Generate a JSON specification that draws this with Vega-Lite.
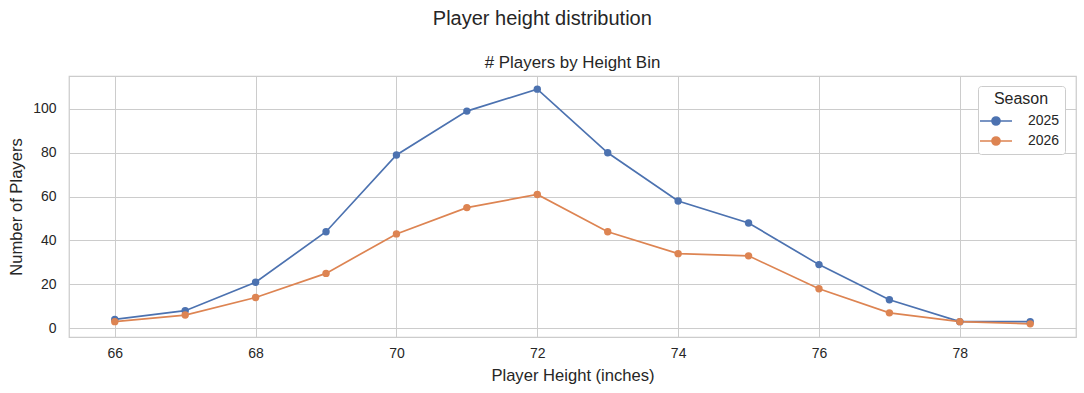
{
  "$schema": "https://vega.github.io/schema/vega-lite/v6.json",
  "padding": {"left": 8, "top": 8, "right": 9, "bottom": 0},
  "background": "white",
  "title": {"text": "Player height distribution", "fontSize": 20, "font": "Liberation Sans", "fontWeight": "normal", "color": "#262626", "anchor": "middle", "offset": 24.5},
  "config": {
    "font": "Liberation Sans",
    "view": {"stroke": "#cccccc", "strokeWidth": 1.25},
    "axis": {"grid": true, "gridColor": "#cccccc", "gridWidth": 1, "domain": false, "ticks": false, "labelFontSize": 14, "labelColor": "#262626", "titleFontSize": 16.6, "titleFontWeight": "normal", "titleColor": "#262626", "labelFont": "Liberation Sans", "titleFont": "Liberation Sans"},
    "legend": {"labelFont": "Liberation Sans", "titleFont": "Liberation Sans"}
  },
  "datasets": {
    "players": [
      {"height": 66, "season": "2025", "players": 4},
      {"height": 67, "season": "2025", "players": 8},
      {"height": 68, "season": "2025", "players": 21},
      {"height": 69, "season": "2025", "players": 44},
      {"height": 70, "season": "2025", "players": 79},
      {"height": 71, "season": "2025", "players": 99},
      {"height": 72, "season": "2025", "players": 109},
      {"height": 73, "season": "2025", "players": 80},
      {"height": 74, "season": "2025", "players": 58},
      {"height": 75, "season": "2025", "players": 48},
      {"height": 76, "season": "2025", "players": 29},
      {"height": 77, "season": "2025", "players": 13},
      {"height": 78, "season": "2025", "players": 3},
      {"height": 79, "season": "2025", "players": 3},
      {"height": 66, "season": "2026", "players": 3},
      {"height": 67, "season": "2026", "players": 6},
      {"height": 68, "season": "2026", "players": 14},
      {"height": 69, "season": "2026", "players": 25},
      {"height": 70, "season": "2026", "players": 43},
      {"height": 71, "season": "2026", "players": 55},
      {"height": 72, "season": "2026", "players": 61},
      {"height": 73, "season": "2026", "players": 44},
      {"height": 74, "season": "2026", "players": 34},
      {"height": 75, "season": "2026", "players": 33},
      {"height": 76, "season": "2026", "players": 18},
      {"height": 77, "season": "2026", "players": 7},
      {"height": 78, "season": "2026", "players": 3},
      {"height": 79, "season": "2026", "players": 2}
    ]
  },
  "vconcat": [
    {
      "width": 1007,
      "height": 261,
      "title": {"text": "# Players by Height Bin", "fontSize": 16.9, "fontWeight": "normal", "color": "#262626", "anchor": "middle", "offset": 4, "font": "Liberation Sans"},
      "data": {"name": "players"},
      "encoding": {
        "x": {"field": "height", "type": "quantitative", "scale": {"domain": [65.35, 79.65], "nice": false, "zero": false},
              "axis": {"values": [66, 68, 70, 72, 74, 76, 78], "title": "Player Height (inches)", "labelPadding": 9, "titlePadding": 7}},
        "y": {"field": "players", "type": "quantitative", "scale": {"domain": [-4, 115], "nice": false, "zero": false},
              "axis": {"values": [0, 20, 40, 60, 80, 100], "title": "Number of Players", "labelPadding": 13, "titlePadding": 8}},
        "color": {"field": "season", "type": "nominal",
                  "scale": {"domain": ["2025", "2026"], "range": ["#4c72b0", "#dd8452"]},
                  "legend": {"title": "Season", "orient": "none", "legendX": 909, "legendY": 10,
                             "padding": 5, "strokeColor": "#cccccc", "fillColor": "white", "cornerRadius": 3,
                             "titleFontSize": 16, "titleFontWeight": "normal", "titleColor": "#262626", "titleAnchor": "middle", "titleAlign": "center", "titlePadding": 7,
                             "labelFontSize": 14, "labelColor": "#262626", "labelOffset": 25, "rowPadding": 4,
                             "symbolType": "M-3.2,0H3.2M0.8,0A0.8,0.8 0 1 1 -0.8,0A0.8,0.8 0 1 1 0.8,0Z",
                             "symbolSize": 100, "symbolStrokeWidth": 1.7, "symbolOffset": 6}}
      },
      "layer": [
        {"mark": {"type": "line", "strokeWidth": 1.7}},
        {"mark": {"type": "point", "filled": true, "size": 55, "opacity": 1}}
      ]
    }
  ]
}
